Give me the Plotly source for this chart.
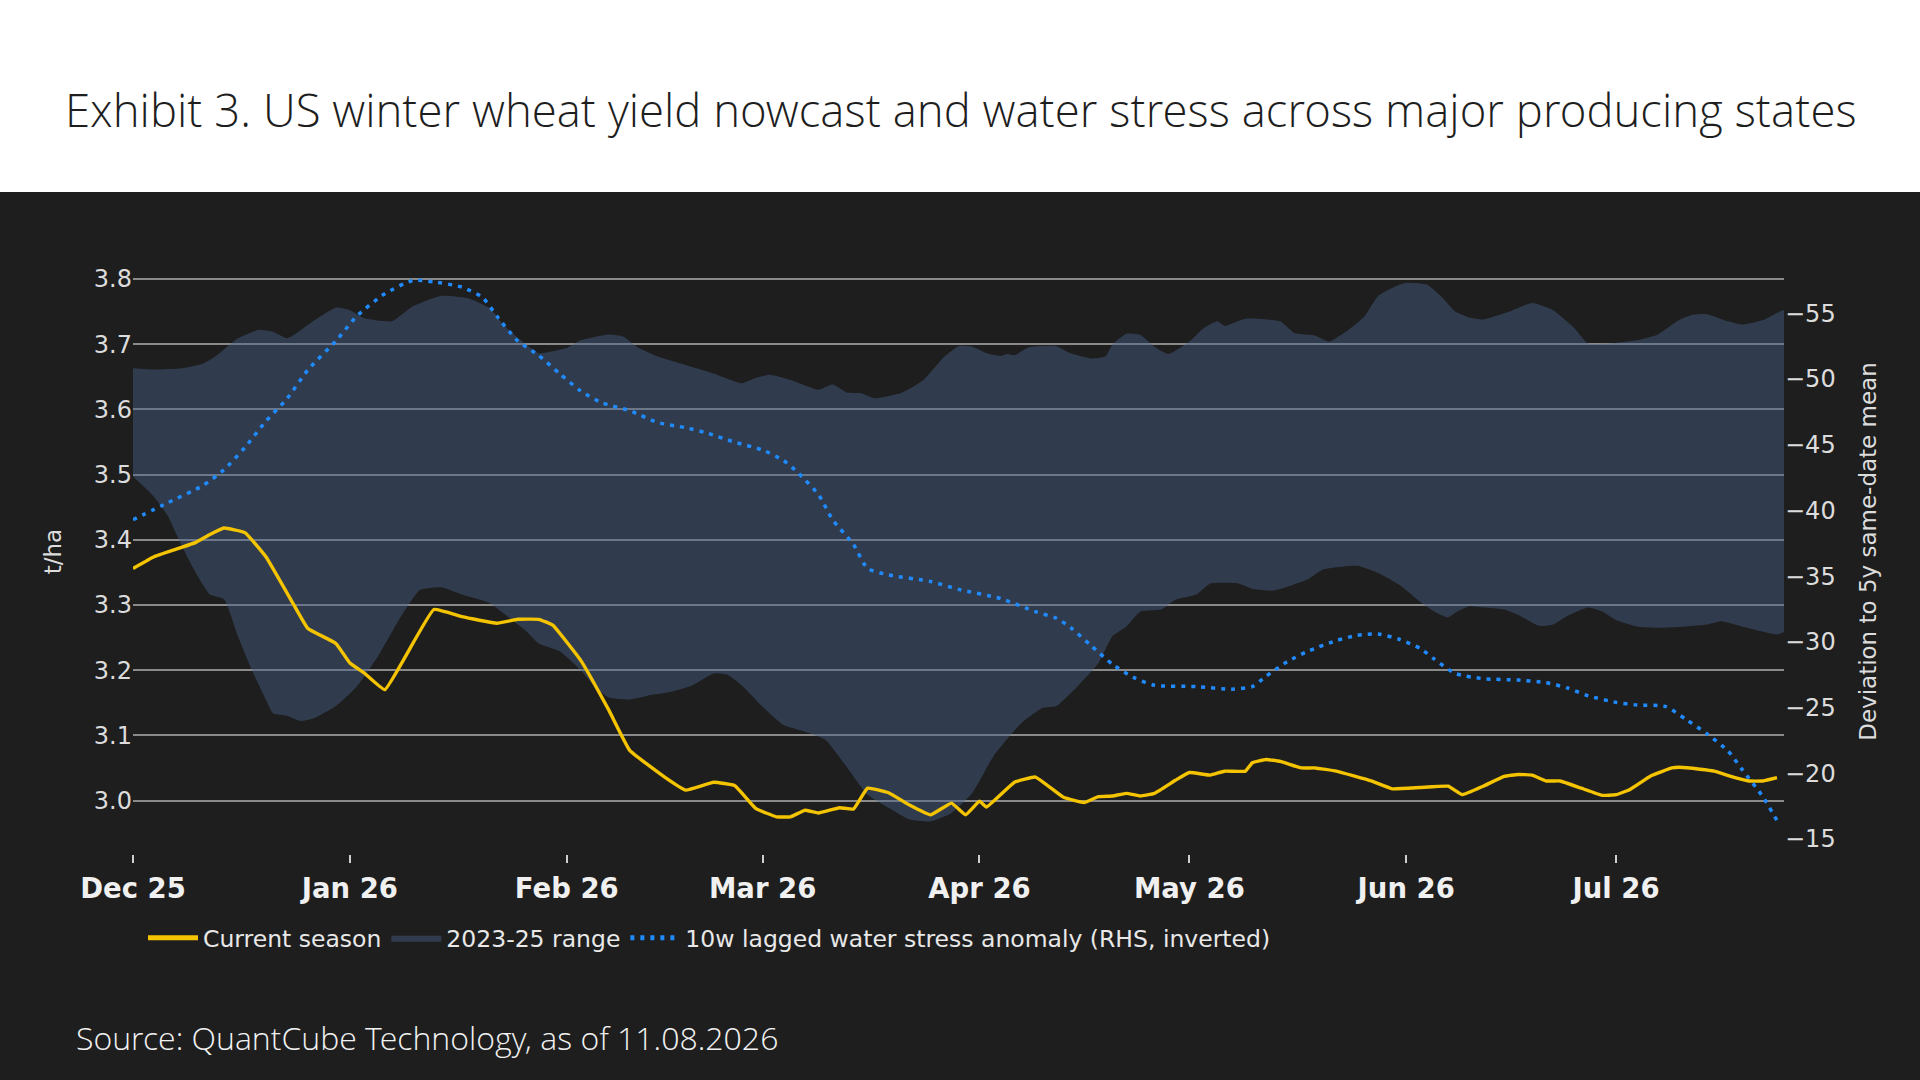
import pandas as pd
import plotly.graph_objects as go

# day offsets are counted from 1 Dec 2025
start = pd.Timestamp("2025-12-01")

# current season yield (t/ha)
cur_days = [0, 3, 6, 9, 11, 13, 16, 19, 23, 25, 29, 31, 33, 36, 43, 47, 52, 55, 58, 60,
            64, 68, 71, 76, 79, 83, 86, 89, 92, 94, 96, 98, 101, 103, 105, 108, 111, 114, 117, 119,
            121, 122, 126, 129, 133, 136, 138, 140, 142, 144, 146, 149, 151, 154, 156, 159, 160, 162, 164, 167,
            169, 172, 177, 180, 184, 188, 190, 193, 196, 198, 200, 202, 204, 207, 210, 212, 214, 217, 220, 221,
            224, 226, 229, 231, 233, 235]
cur_vals = [3.356, 3.374, 3.385, 3.396, 3.408, 3.418, 3.411, 3.374, 3.300, 3.264, 3.241, 3.211, 3.196, 3.170, 3.293, 3.282, 3.272, 3.278, 3.278, 3.269,
            3.215, 3.139, 3.077, 3.036, 3.016, 3.028, 3.023, 2.988, 2.975, 2.975, 2.985, 2.981, 2.989, 2.987, 3.019, 3.012, 2.993, 2.978, 2.996, 2.978,
            2.999, 2.990, 3.028, 3.036, 3.005, 2.997, 3.006, 3.007, 3.011, 3.007, 3.011, 3.031, 3.043, 3.039, 3.045, 3.045, 3.058, 3.063, 3.060, 3.050,
            3.050, 3.045, 3.030, 3.018, 3.020, 3.022, 3.009, 3.022, 3.037, 3.040, 3.039, 3.030, 3.030, 3.019, 3.008, 3.009, 3.017, 3.038, 3.050, 3.051,
            3.048, 3.045, 3.035, 3.030, 3.030, 3.035]

# 2023-25 range, upper and lower edge (t/ha)
hi_days = [0, 3, 7, 10, 12, 15, 18, 20, 22, 23, 26, 29, 31, 33, 37, 40, 44, 48, 51, 53,
           56, 58, 60, 62, 64, 68, 70, 72, 75, 79, 83, 87, 89, 91, 94, 98, 100, 102, 104, 106,
           110, 113, 116, 118, 120, 122, 124, 125, 126, 128, 132, 134, 137, 139, 140, 142, 144, 146, 148, 151,
           153, 155, 156, 159, 162, 164, 166, 169, 171, 174, 176, 178, 181, 182, 185, 187, 189, 191, 193, 197,
           200, 203, 206, 208, 211, 215, 218, 221, 223, 225, 228, 230, 233, 235, 236]
hi_vals = [3.663, 3.661, 3.663, 3.670, 3.683, 3.709, 3.722, 3.719, 3.709, 3.714, 3.737, 3.756, 3.752, 3.740, 3.735, 3.758, 3.774, 3.770, 3.755, 3.729,
           3.701, 3.686, 3.689, 3.694, 3.706, 3.715, 3.712, 3.696, 3.681, 3.668, 3.655, 3.640, 3.648, 3.653, 3.645, 3.630, 3.638, 3.626, 3.625, 3.617,
           3.626, 3.645, 3.681, 3.697, 3.696, 3.686, 3.682, 3.685, 3.683, 3.695, 3.697, 3.686, 3.678, 3.681, 3.699, 3.716, 3.714, 3.696, 3.685, 3.704,
           3.724, 3.735, 3.728, 3.739, 3.738, 3.735, 3.717, 3.713, 3.704, 3.724, 3.742, 3.774, 3.791, 3.794, 3.791, 3.773, 3.750, 3.741, 3.738, 3.751,
           3.763, 3.752, 3.725, 3.701, 3.701, 3.706, 3.715, 3.737, 3.745, 3.746, 3.735, 3.730, 3.737, 3.748, 3.752]

lo_days = [0, 3, 5, 7, 9, 11, 13, 15, 17, 19, 20, 22, 24, 26, 29, 32, 35, 38, 40, 41,
           44, 47, 51, 53, 56, 58, 61, 64, 66, 68, 71, 74, 77, 80, 83, 85, 87, 90, 93, 96,
           99, 102, 105, 108, 111, 114, 117, 120, 123, 127, 130, 132, 135, 138, 140, 142, 144, 147, 149, 152,
           154, 158, 160, 163, 165, 168, 170, 173, 175, 178, 181, 184, 186, 188, 189, 191, 193, 196, 198, 201,
           203, 205, 208, 210, 212, 215, 218, 222, 225, 227, 230, 233, 235, 236]
lo_vals = [3.497, 3.466, 3.436, 3.390, 3.349, 3.316, 3.309, 3.252, 3.200, 3.155, 3.134, 3.130, 3.122, 3.127, 3.145, 3.175, 3.221, 3.277, 3.310, 3.323,
           3.327, 3.316, 3.303, 3.287, 3.262, 3.241, 3.229, 3.200, 3.175, 3.158, 3.155, 3.162, 3.167, 3.177, 3.195, 3.193, 3.177, 3.144, 3.116, 3.106,
           3.093, 3.052, 3.009, 2.989, 2.971, 2.968, 2.981, 3.012, 3.068, 3.119, 3.142, 3.145, 3.175, 3.211, 3.252, 3.267, 3.290, 3.293, 3.308, 3.316,
           3.333, 3.333, 3.325, 3.322, 3.328, 3.340, 3.354, 3.359, 3.360, 3.349, 3.331, 3.305, 3.290, 3.281, 3.288, 3.298, 3.296, 3.293, 3.285, 3.268,
           3.270, 3.283, 3.296, 3.290, 3.277, 3.267, 3.265, 3.267, 3.270, 3.275, 3.267, 3.259, 3.255, 3.259]

# 10w lagged water stress anomaly (RHS, inverted)
ws_days = [0, 5, 10, 13, 16, 19, 22, 25, 29, 32, 36, 40, 43, 47, 50, 52, 55, 58, 61, 64,
           67, 71, 75, 79, 82, 86, 90, 93, 95, 98, 100, 103, 105, 108, 114, 118, 124, 129, 132, 134,
           137, 140, 143, 146, 152, 157, 160, 162, 165, 168, 172, 175, 178, 181, 184, 186, 189, 193, 198, 202,
           205, 208, 212, 215, 219, 222, 225, 228, 230, 233, 235]
ws_vals = [-39.3, -40.6, -41.9, -43.1, -44.8, -46.8, -48.5, -50.7, -52.9, -54.8, -56.5, -57.5, -57.4, -57.0, -56.2, -54.8, -52.9, -51.8, -50.4, -49.1,
           -48.2, -47.6, -46.7, -46.3, -45.9, -45.2, -44.6, -43.8, -42.9, -41.2, -39.3, -37.4, -35.6, -35.1, -34.6, -34.0, -33.3, -32.3, -31.8, -31.1,
           -29.7, -28.3, -27.3, -26.7, -26.6, -26.4, -26.6, -27.4, -28.5, -29.3, -30.1, -30.5, -30.6, -30.2, -29.5, -28.7, -27.6, -27.2, -27.1, -26.9,
           -26.5, -25.9, -25.4, -25.2, -25.1, -24.1, -23.0, -21.7, -20.3, -18.2, -16.4]


def to_dates(days):
    return start + pd.to_timedelta(days, unit="D")


cur_x = to_dates(cur_days)
hi_x = to_dates(hi_days)
lo_x = to_dates(lo_days)
ws_x = to_dates(ws_days)

# band polygon: along the upper edge, back along the lower edge
band_x = list(hi_x) + list(lo_x[::-1])
band_y = hi_vals + lo_vals[::-1]

BG = "#1e1e1e"

fig = go.Figure()
fig.add_trace(go.Scatter(
    x=band_x, y=band_y, fill="toself", mode="lines",
    line=dict(width=0, shape="spline", smoothing=0.5),
    fillcolor="rgba(70,98,138,0.45)",
    name="2023-25 range", legendrank=2, hoverinfo="skip"))
fig.add_trace(go.Scatter(
    x=cur_x, y=cur_vals, mode="lines",
    line=dict(color="#f5c400", width=3.4, shape="spline", smoothing=0.3),
    name="Current season", legendrank=1))
fig.add_trace(go.Scatter(
    x=ws_x, y=ws_vals, mode="lines", yaxis="y2",
    line=dict(color="#1f8bff", width=3.5, dash="4px,6px", shape="spline", smoothing=0.6),
    name="10w lagged water stress anomaly (RHS, inverted)", legendrank=3))

# plot area in pixels: x 133..1784, y 249..854
def px(xp):
    return (xp - 133) / 1651


def py(yp):
    return (854 - yp) / 605


fig.add_shape(type="rect", xref="paper", yref="paper",
              x0=px(0), x1=px(1920), y0=py(192), y1=py(0),
              fillcolor="white", line_width=0, layer="below")

fig.add_annotation(
    text="Exhibit 3. US winter wheat yield nowcast and water stress across major producing states",
    xref="paper", yref="paper", x=px(961), y=py(109), xanchor="center", yanchor="middle",
    showarrow=False, font=dict(family="Open Sans Light, Open Sans", size=45.5, color="#1e1e1e", weight=300))
fig.add_annotation(
    text="Source: QuantCube Technology, as of 11.08.2026",
    xref="paper", yref="paper", x=px(74), y=py(1037), xanchor="left", yanchor="middle",
    showarrow=False, font=dict(family="Open Sans Light, Open Sans", size=32, color="#f2f2f2", weight=300))

fig.update_layout(
    width=1920, height=1080,
    paper_bgcolor=BG, plot_bgcolor=BG,
    font=dict(family="DejaVu Sans", color="#e0e0e0", size=23),
    margin=dict(l=133, r=136, t=249, b=226, autoexpand=False),
    showlegend=True,
    legend=dict(
        orientation="h", x=px(143), xanchor="left", y=py(938), yanchor="middle",
        bgcolor="rgba(0,0,0,0)", font=dict(size=23.5, color="#e8e8e8"),
        traceorder="normal", itemsizing="constant", itemwidth=50),
    xaxis=dict(
        type="date", range=[start, to_dates([236])[0]],
        tickformat="%b %y", dtick="M1", tick0="2025-12-01",
        ticks="outside", ticklen=8, tickwidth=1.5, tickcolor="#cfcfcf",
        ticklabelstandoff=2,
        showgrid=False, showline=False, zeroline=False,
        tickfont=dict(size=27.5, color="#f0f0f0", weight="bold")),
    yaxis=dict(
        range=[2.918, 3.846], dtick=0.1, tickformat=".1f",
        showgrid=True, gridcolor="#8a8a8a", gridwidth=2,
        zeroline=False, showline=False,
        tickfont=dict(size=24, color="#dcdcdc"),
        title=dict(text="t/ha", font=dict(size=23, color="#dcdcdc"), standoff=25)),
    yaxis2=dict(
        overlaying="y", side="right",
        range=[-13.86, -59.9], dtick=5,
        showgrid=False, zeroline=False, showline=False,
        tickfont=dict(size=24, color="#dcdcdc"),
        title=dict(text="Deviation to 5y same-date mean", font=dict(size=23, color="#dcdcdc"), standoff=25)),
)

# drop the page margin so the 1920x1080 figure fills the window
fig.write_html("out.html", config={"displayModeBar": False},
               post_script="document.body.style.margin='0';")
